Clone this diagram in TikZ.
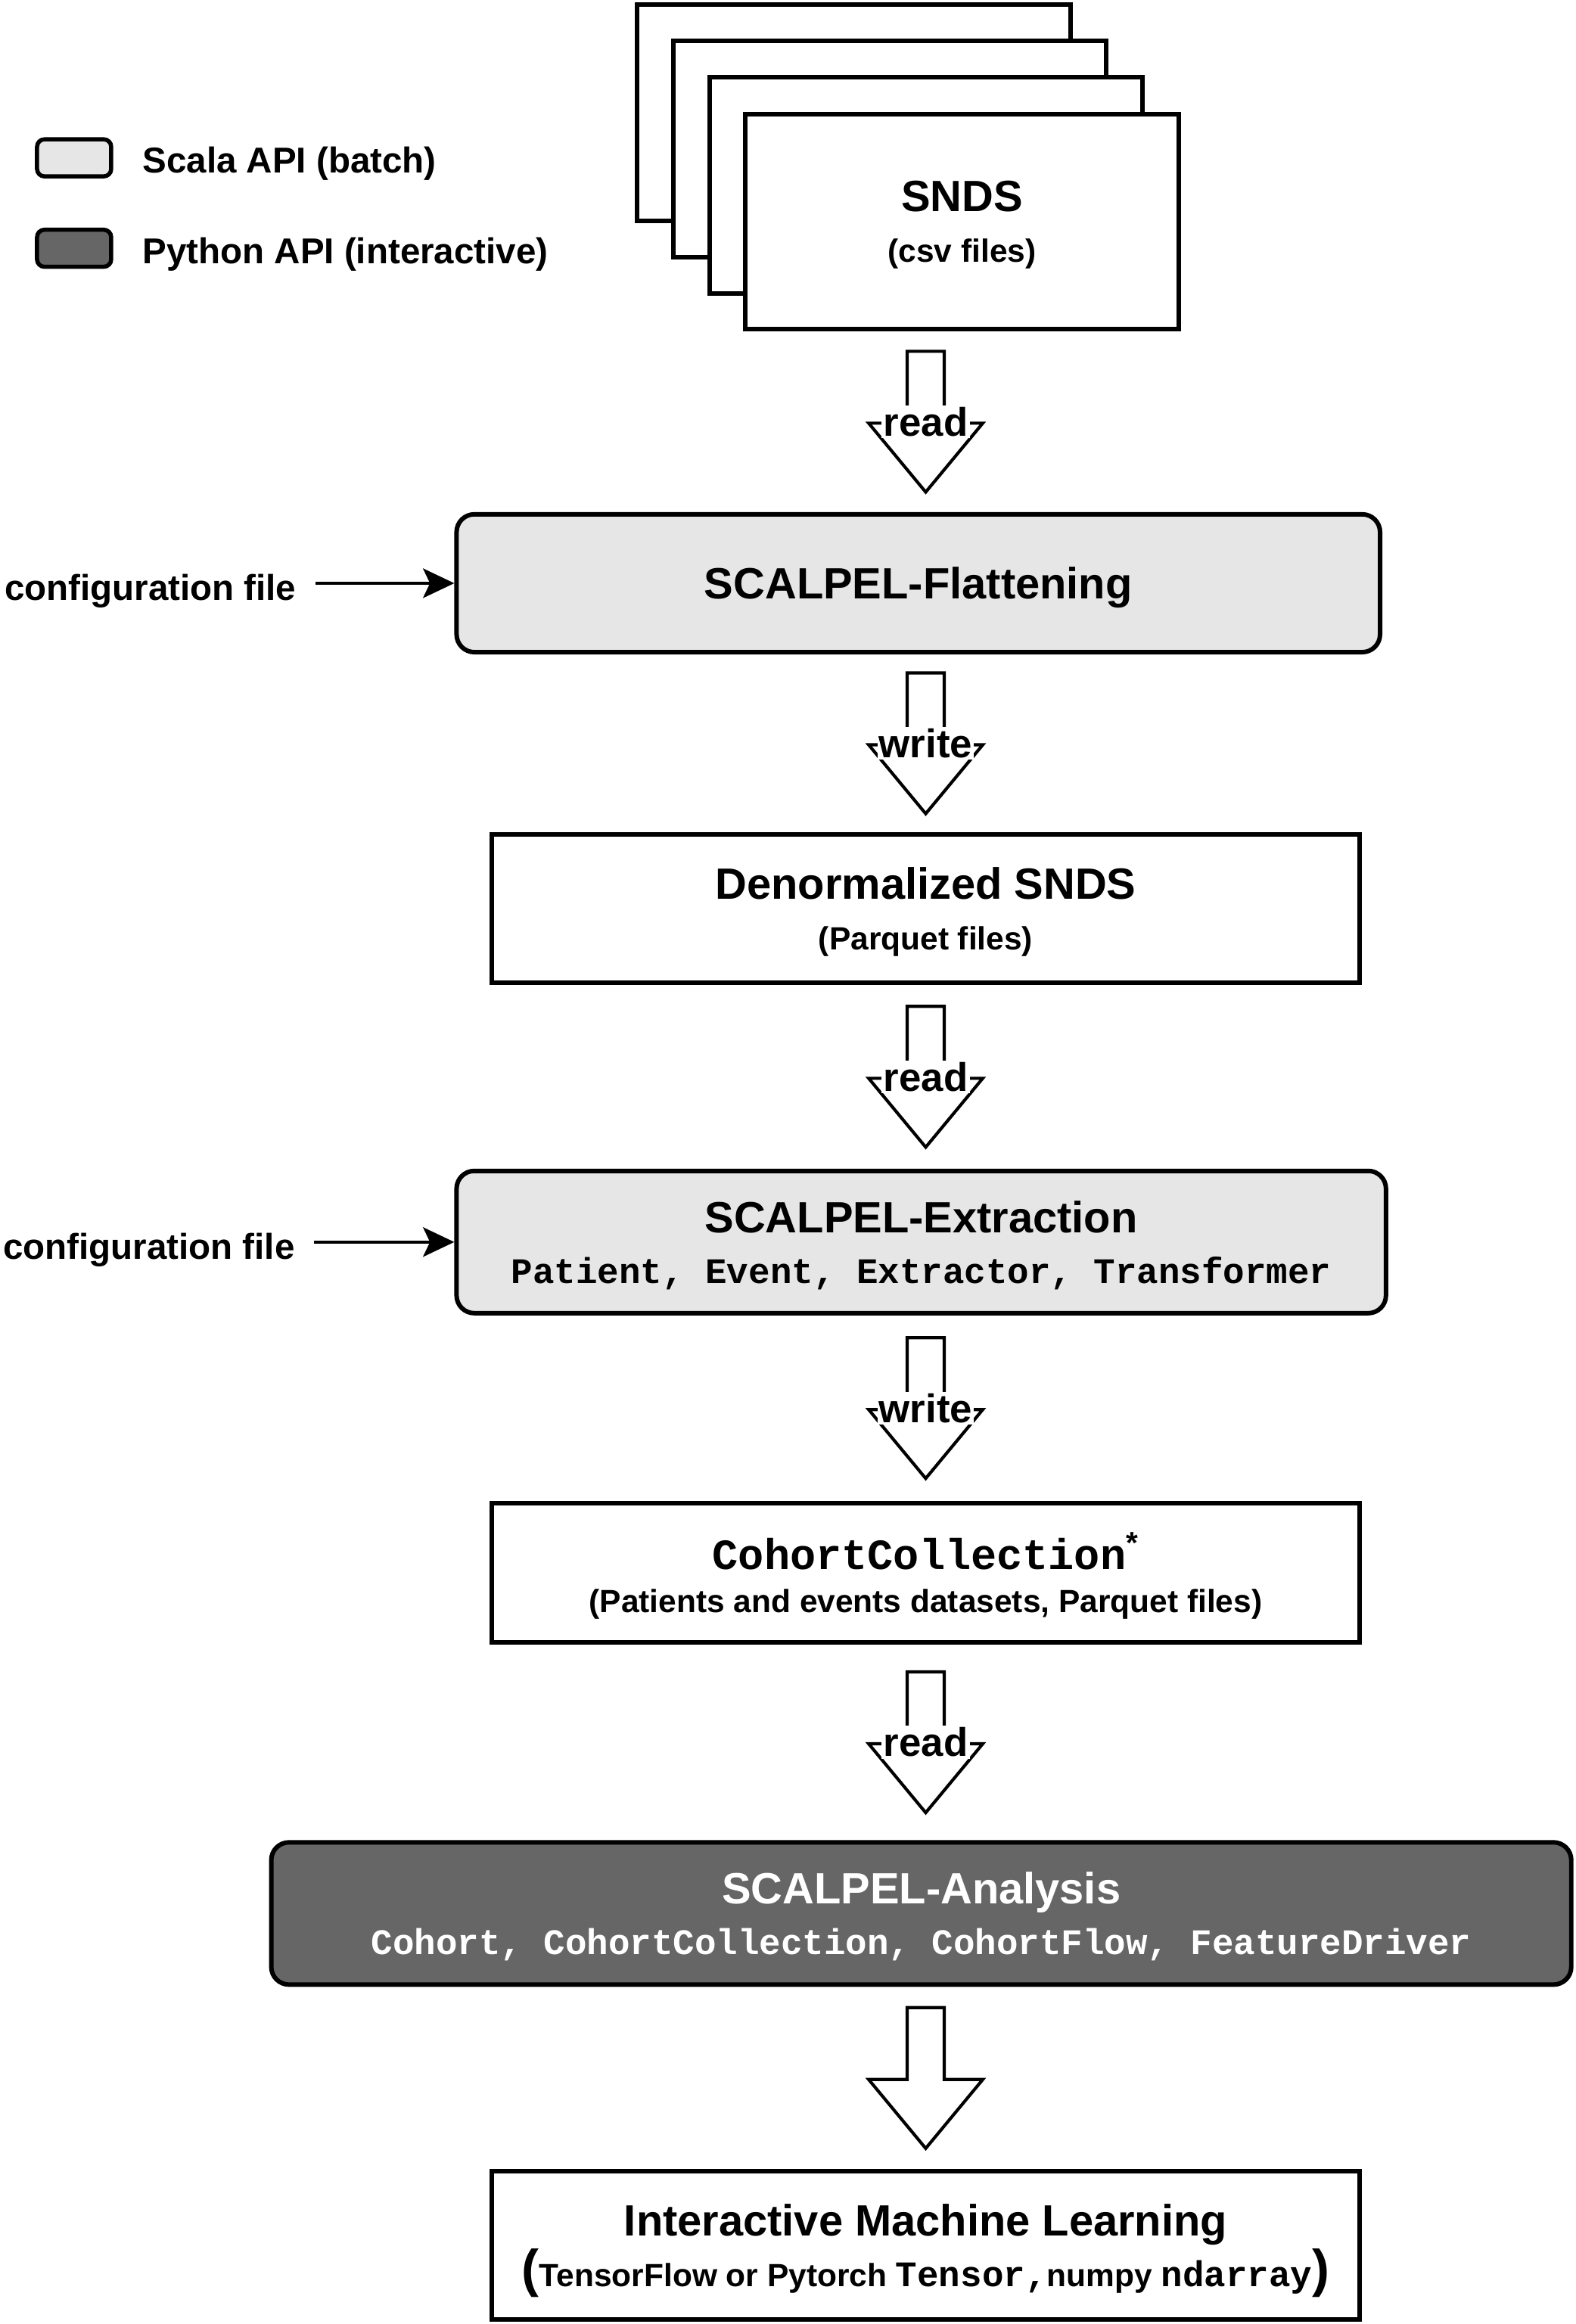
\documentclass[tikz,border=0pt]{standalone}
\usepackage{fontspec}
\setmainfont{Liberation Sans}
\setmonofont{Liberation Mono}
\usetikzlibrary{calc,arrows.meta}
\definecolor{scalaGrey}{RGB}{230,230,230}
\definecolor{pythonGrey}{RGB}{102,102,102}
\newcommand{\subtxt}{\fontsize{18.5}{22}\selectfont}
\newcommand{\codetxt}{\fontsize{20.7}{24}\selectfont\ttfamily}
\newcommand{\bigparen}[1]{{\fontsize{30}{30}\selectfont #1}}

\begin{document}
\begin{tikzpicture}[x=0.3mm, y=-0.3mm,
  file/.style={draw, line width=2.6pt, fill=white, inner sep=0pt, align=center, text depth=-1pt, font=\fontsize{25.2}{29.3}\selectfont\bfseries},
  api/.style={file, rounded corners=3.6mm},
  flowlabel/.style={fill=white, inner sep=1pt, font=\fontsize{23}{26}\selectfont\bfseries},
  side/.style={inner sep=0pt, text depth=0pt, font=\fontsize{20.7}{24}\selectfont\bfseries},
  cfgArrow/.style={line width=1.6pt, shorten <=3.9mm, -{Stealth[length=18pt, width=17pt, inset=4pt]}},
  flowArrow/.pic={\draw[line width=1.8pt, fill=white, line join=miter] (-12.5,-47.5) -- (12.5,-47.5) -- (12.5,1) -- (38.5,1) -- (0,47.5) -- (-38.5,1) -- (-12.5,1) -- cycle;}]
\useasboundingbox (0,0) rectangle (1063,1568);

% legend
\node[draw, line width=2.4pt, rounded corners=1.5mm, fill=scalaGrey, minimum width=15mm, minimum height=7.5mm] (lgScala) at (50,106.5) {};
\node[side, right] (lgScalaTxt) at (96,108) {Scala API (batch)};
\node[draw, line width=2.4pt, rounded corners=1.5mm, fill=pythonGrey, minimum width=15mm, minimum height=7.5mm] (lgPython) at (50,167.5) {};
\node[side, right] (lgPythonTxt) at (96,169) {Python API (interactive)};

% pile of csv files
\foreach \k in {0,1,2}
  \draw[line width=2.6pt, fill=white] ({430+24.3*\k},{3+24.5*\k}) rectangle ++(292,146);
\node[file, minimum width=87.6mm, minimum height=43.5mm] (snds) at (649,149.5) {SNDS\\{\subtxt (csv files)}};

% pipeline
\node[api, fill=scalaGrey, minimum width=186.9mm, minimum height=27.9mm] (flat) at (619.5,393.5) {SCALPEL-Flattening};
\node[file, minimum width=175.5mm, minimum height=30mm] (denorm) at (624.5,613) {Denormalized SNDS\\{\subtxt (Parquet files)}};
\node[api, fill=scalaGrey, minimum width=188.1mm, minimum height=28.8mm] (extract) at (621.5,838) {SCALPEL-Extraction\\{\codetxt Patient, Event, Extractor, Transformer}};
\node[file, minimum width=175.5mm, minimum height=28.2mm] (cohort) at (624.5,1061) {{\fontsize{24.8}{28}\selectfont\ttfamily CohortCollection}\textsuperscript{*}\\[-4.5pt]{\subtxt (Patients and events datasets, Parquet files)}};
\node[api, fill=pythonGrey, text=white, minimum width=263.1mm, minimum height=28.8mm] (analysis) at (621.5,1291) {SCALPEL-Analysis\\{\codetxt Cohort, CohortCollection, CohortFlow, FeatureDriver}};
\node[file, minimum width=175.5mm, minimum height=30mm] (ml) at (624.5,1515) {Interactive Machine Learning\\{\subtxt\bigparen{(}TensorFlow or Pytorch {\codetxt Tensor,}numpy {\codetxt ndarray}\bigparen{)}}};

% configuration inputs
\node[side, left] (cfgFlat) at (200,396) {configuration file};
\node[side, left] (cfgExtract) at (199,841) {configuration file};
\draw[cfgArrow] (cfgFlat.east |- flat.west) -- (flat.west);
\draw[cfgArrow] (cfgExtract.east |- extract.west) -- (extract.west);

% hollow arrows
\foreach \a/\b/\t [count=\n] in {snds/flat/read, flat/denorm/write, denorm/extract/read, extract/cohort/write, cohort/analysis/read}
{
  \coordinate (m\n) at ($(\a.south -| denorm)!.5!(\b.north -| denorm)$);
  \pic at (m\n) {flowArrow};
  \node[flowlabel] (lb\n) at (m\n) {\t};
}
\coordinate (m6) at ($(analysis.south -| denorm)!.5!(ml.north -| denorm)$);
\pic at (m6) {flowArrow};
\end{tikzpicture}
\end{document}
